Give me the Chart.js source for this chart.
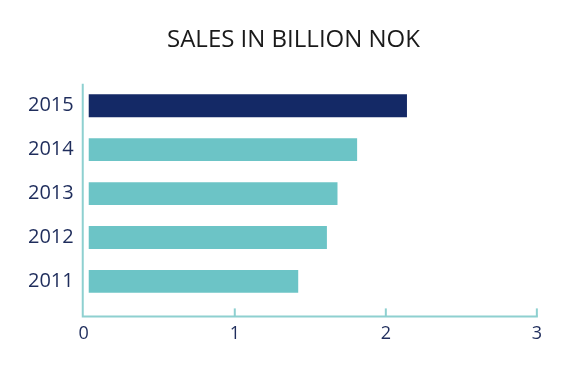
<!DOCTYPE html>
<html>
<head>
<meta charset="utf-8">
<script src="https://cdn.jsdelivr.net/npm/chart.js@4"></script>
<style>
  html, body { margin: 0; padding: 0; background: #fff; }
  #wrap { width: 562px; height: 365px; }
</style>
</head>
<body>
<div id="wrap"><canvas id="salesChart"></canvas></div>
<script>
// Data
const years = ['2015', '2014', '2013', '2012', '2011'];
const sales = [2.14, 1.81, 1.68, 1.61, 1.42];
const xTicks = [0, 1, 2, 3];

const navy = '#142966';
const teal = '#6cc4c6';
const axisColor = '#8ed0d0';
const labelColor = '#1f2d5c';

// axis lines drawn a bit below the bars, ticks pointing up
const axisLines = {
    id: 'axisLines',
    afterLayout(chart) {
        // title sits a little right of the canvas centre in the original
        if (chart.titleBlock) {
            chart.titleBlock.left += 13;
            chart.titleBlock.right += 13;
        }
    },
    afterDraw(chart) {
        const ctx = chart.ctx;
        const x = chart.scales.x;
        const area = chart.chartArea;
        const x0 = x.getPixelForValue(0) - 1;
        const yBottom = area.bottom + 13;
        ctx.save();
        ctx.strokeStyle = axisColor;
        ctx.lineWidth = 2;
        ctx.beginPath();
        ctx.moveTo(x0, area.top);
        ctx.lineTo(x0, yBottom);
        ctx.lineTo(x.getPixelForValue(3) + 1, yBottom);
        ctx.stroke();
        xTicks.forEach(v => {
            if (v === 0) return;
            const px = x.getPixelForValue(v);
            ctx.beginPath();
            ctx.moveTo(px, yBottom);
            ctx.lineTo(px, yBottom - 8);
            ctx.stroke();
        });
        ctx.restore();
    }
};

const ctx = document.getElementById('salesChart').getContext('2d');
new Chart(ctx, {
    type: 'bar',
    data: {
        labels: years,
        datasets: [{
            label: 'Sales',
            data: sales,
            base: 0.033,
            backgroundColor: years.map((y, i) => i === 0 ? navy : teal),
            barPercentage: 0.52,
            categoryPercentage: 1.0
        }]
    },
    options: {
        indexAxis: 'y',
        responsive: true,
        maintainAspectRatio: false,
        animation: false,
        layout: { padding: { left: 18, right: 19, top: 10, bottom: 0 } },
        plugins: {
            legend: { display: false },
            tooltip: { enabled: false },
            title: {
                display: true,
                text: 'SALES IN BILLION NOK',
                color: '#1a1a1a',
                font: { family: 'Open Sans', size: 24, weight: 'normal' },
                padding: { top: 16, bottom: 29 }
            }
        },
        scales: {
            x: {
                min: 0,
                max: 3,
                afterBuildTicks: s => { s.ticks = xTicks.map(v => ({ value: v })); },
                grid: { display: false, drawTicks: false },
                border: { display: false },
                ticks: {
                    color: labelColor,
                    font: { family: 'Open Sans', size: 18 },
                    padding: 20
                }
            },
            y: {
                grid: { display: false, drawTicks: false },
                border: { display: false },
                ticks: {
                    color: labelColor,
                    font: { family: 'Open Sans', size: 20 },
                    padding: 10
                }
            }
        }
    },
    plugins: [axisLines]
});
</script>
</body>
</html>
